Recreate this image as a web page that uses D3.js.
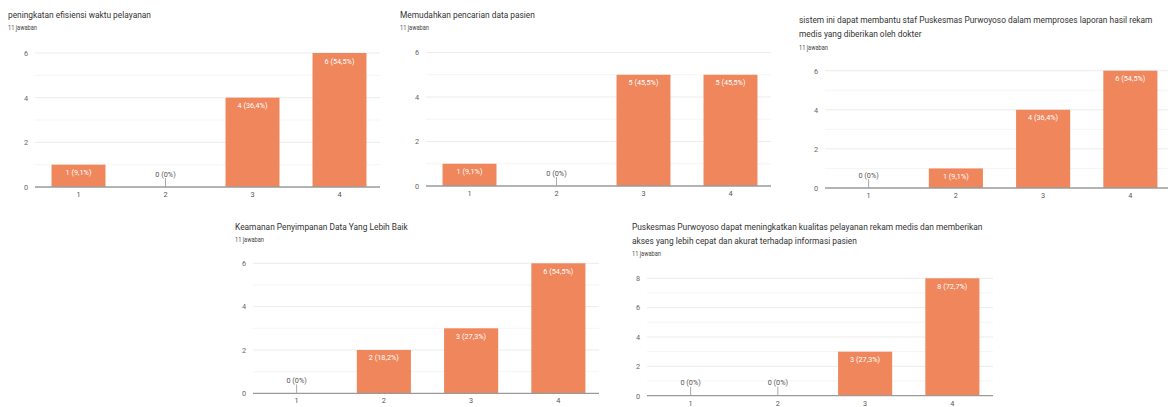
<!DOCTYPE html>
<html>
<head>
<meta charset="utf-8">
<script src="https://cdn.jsdelivr.net/npm/d3@7"></script>
<style>
  body { margin: 0; background: #fff; }
  svg { display: block; font-family: Roboto, "Noto Sans", sans-serif; }
</style>
</head>
<body>
<svg id="chart" width="1168" height="407"></svg>
<script>
// data (11 answers per question)
let categories = ["1", "2", "3", "4"];
let respondents = 11;
let answersLabel = "11 jawaban";

let titles = [
  ["peningkatan efisiensi waktu pelayanan"],
  ["Memudahkan pencarian data pasien"],
  ["sistem ini dapat membantu staf Puskesmas Purwoyoso dalam memproses laporan hasil rekam",
   "medis yang diberikan oleh dokter"],
  ["Keamanan Penyimpanan Data Yang Lebih Baik"],
  ["Puskesmas Purwoyoso dapat meningkatkan kualitas pelayanan rekam medis dan memberikan",
   "akses yang lebih cepat dan akurat terhadap informasi pasien"]
];

let values1 = [1, 0, 4, 6];
let values2 = [1, 0, 5, 5];
let values3 = [0, 1, 4, 6];
let values4 = [0, 2, 3, 6];
let values5 = [0, 0, 3, 8];
let allValues = [values1, values2, values3, values4, values5];

let yMaxes = [6, 6, 6, 6, 8];

// panel layout (pixels)
let panels = [
  {tx: 8,   ty: 18,    xl: 35,  xr: 383,  top: 53,    base: 187},
  {tx: 400, ty: 18,    xl: 426, xr: 774,  top: 52.5,  base: 186},
  {tx: 799, ty: 23,    xl: 825, xr: 1174, top: 70.7,  base: 188},
  {tx: 235, ty: 230,   xl: 253, xr: 602,  top: 263.3, base: 393.3},
  {tx: 632, ty: 229.7, xl: 647, xr: 996,  top: 278.3, base: 395.7}
];

let barColor = "#ef865c";
let fmtPct = d3.format(".1f");
let pctText = (v) => {
  if (v === 0) return "0 (0%)";
  return v + " (" + fmtPct(v / respondents * 100).replace(".", ",") + "%)";
};

let svg = d3.select("#chart");

panels.forEach((p, k) => {
  let g = svg.append("g");
  let vals = allValues[k];
  let data = categories.map((c, i) => ({cat: c, value: vals[i]}));

  // title + answers count (text is a bit narrow in the screenshot)
  let t = g.append("text")
    .attr("transform", "translate(" + p.tx + "," + p.ty + ") scale(0.9,1)")
    .style("font-size", "9.3px").style("fill", "#333");
  titles[k].forEach((line, i) => {
    t.append("tspan").attr("x", 0).attr("dy", i === 0 ? 0 : 14.5).text(line);
  });
  g.append("text")
    .attr("transform", "translate(" + p.tx + "," + (p.ty + 12 + (titles[k].length - 1) * 14.5) + ") scale(0.9,1)")
    .style("font-size", "6.3px").style("fill", "#444")
    .text(answersLabel);

  let x = d3.scaleBand().domain(categories).range([p.xl, p.xr]).paddingInner(0.38).paddingOuter(0.19);
  let y = d3.scaleLinear().domain([0, yMaxes[k]]).range([p.base, p.top]);

  // gridlines: major at even ticks, minor at odd
  let gridVals = d3.range(1, yMaxes[k] + 1);
  g.selectAll(".grid")
    .data(gridVals)
    .enter().append("line")
      .attr("x1", p.xl).attr("x2", Math.min(p.xr - 3, 1168))
      .attr("y1", d => y(d)).attr("y2", d => y(d))
      .style("stroke", d => d % 2 === 0 ? "#ececec" : "#f5f5f5")
      .style("stroke-width", 1);

  // y axis labels
  let yAxis = d3.axisLeft(y).tickValues(d3.range(0, yMaxes[k] + 1, 2))
    .tickFormat(d3.format("d")).tickSize(0).tickPadding(7);
  let ya = g.append("g").attr("transform", "translate(" + p.xl + ",0)").call(yAxis);
  ya.select(".domain").remove();
  ya.selectAll("text").style("font-size", "7.3px").style("fill", "#666").style("font-family", "Roboto, sans-serif");

  // bars
  g.selectAll(".bar")
    .data(data.filter(d => d.value > 0))
    .enter().append("rect")
      .attr("x", d => x(d.cat))
      .attr("y", d => y(d.value))
      .attr("width", x.bandwidth())
      .attr("height", d => y(0) - y(d.value))
      .style("fill", barColor);

  // labels inside bars
  g.selectAll(".lbl")
    .data(data.filter(d => d.value > 0))
    .enter().append("text")
      .attr("x", d => x(d.cat) + x.bandwidth() / 2)
      .attr("y", d => y(d.value) + 10.5)
      .attr("text-anchor", "middle")
      .style("font-size", "7.3px").style("fill", "#fff")
      .text(d => pctText(d.value));

  // zero markers
  let zeros = data.filter(d => d.value === 0);
  g.selectAll(".zl")
    .data(zeros)
    .enter().append("line")
      .attr("x1", d => x(d.cat) + x.bandwidth() / 2)
      .attr("x2", d => x(d.cat) + x.bandwidth() / 2)
      .attr("y1", y(0)).attr("y2", y(0) - 9)
      .style("stroke", "#aaa").style("stroke-width", 1);
  g.selectAll(".zt")
    .data(zeros)
    .enter().append("text")
      .attr("x", d => x(d.cat) + x.bandwidth() / 2)
      .attr("y", y(0) - 10.5)
      .attr("text-anchor", "middle")
      .style("font-size", "7.3px").style("fill", "#555")
      .text(d => pctText(d.value));

  // x axis
  let xAxis = d3.axisBottom(x).tickSize(0).tickPadding(5);
  let xa = g.append("g").attr("transform", "translate(0," + y(0) + ")").call(xAxis);
  xa.select(".domain").attr("d", "M" + p.xl + ",0H" + Math.min(p.xr - 3, 1168))
    .style("stroke", "#9a9a9a").style("stroke-width", 1.3);
  xa.selectAll("text").style("font-size", "7.3px").style("fill", "#555").style("font-family", "Roboto, sans-serif");
});
</script>
</body>
</html>
